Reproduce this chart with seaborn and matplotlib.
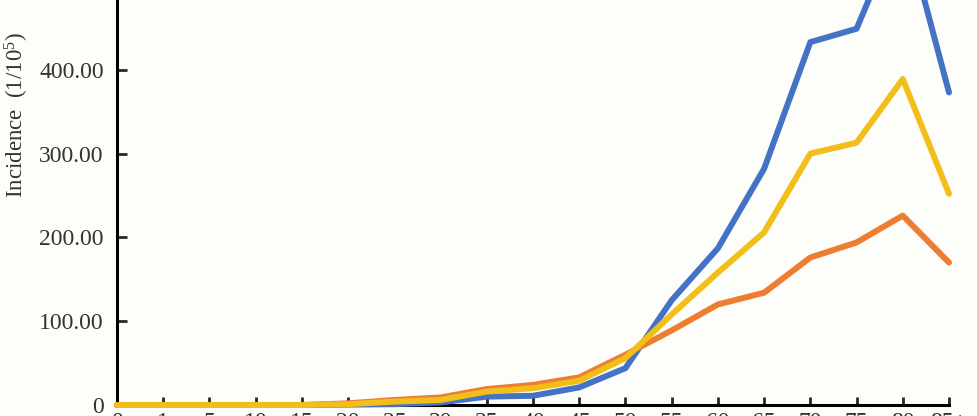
import numpy as np
import pandas as pd
import matplotlib
matplotlib.use("Agg")
import matplotlib.pyplot as plt
import seaborn as sns

# age groups and incidence (1/10^5)
age_groups = ["0", "1", "5", "10", "15", "20", "25", "30", "35", "40",
              "45", "50", "55", "60", "65", "70", "75", "80", "85+"]
blue_vals = [0, 0, 0, 0, 0, 0.5, 1, 3, 10, 11, 21, 44, 125, 187, 282, 433, 449, 580, 373]
orange_vals = [0, 0, 0, 0, 0, 2, 6, 9, 19, 24, 33, 60, 89, 120, 134, 176, 194, 226, 170]
yellow_vals = [0, 0, 0, 0, 0, 1, 4, 6, 16, 20, 29, 56, 108, 158, 206, 300, 313, 389, 252]
y_ticks = [0, 100, 200, 300, 400]

series = {"blue": blue_vals, "orange": orange_vals, "yellow": yellow_vals}
colors = {"blue": "#4472C4", "orange": "#ED7D31", "yellow": "#F2BE1A"}

pos = np.arange(len(age_groups))
df = pd.concat([pd.DataFrame({"pos": pos, "value": v, "series": k}) for k, v in series.items()],
               ignore_index=True)

sns.set_style("white")
plt.rcParams["font.family"] = ["Liberation Serif", "DejaVu Serif"]
plt.rcParams["mathtext.fontset"] = "custom"
plt.rcParams["mathtext.rm"] = "Liberation Serif"
plt.rcParams["mathtext.default"] = "regular"

bg = "#fdfdfa"
fig = plt.figure(figsize=(9.78, 4.16), dpi=100, facecolor=bg)
ax = fig.add_axes([117 / 978, 11 / 416, (949 - 117) / 978, 405 / 416])
ax.set_facecolor(bg)

sns.lineplot(data=df, x="pos", y="value", hue="series", palette=colors, sort=False,
             linewidth=4.3, legend=False, ax=ax, clip_on=False, zorder=5)

ax.set_xlim(0, len(age_groups) - 1)
ax.set_ylim(0, 483.3)
ax.set_xticks(pos)
ax.set_xticklabels(age_groups)
ax.set_yticks(y_ticks)
ax.set_yticklabels(["0" if t == 0 else f"{t:.2f}" for t in y_ticks])

sns.despine(ax=ax)
for s in ["left", "bottom"]:
    ax.spines[s].set_color("black")
    ax.spines[s].set_linewidth(2.2)

ax.tick_params(axis="y", direction="in", length=7, width=2, pad=9.5,
               labelsize=17, labelcolor="#333333", left=True)
ax.tick_params(axis="x", direction="in", length=6, width=2, pad=5,
               labelsize=17, labelcolor="#333333", bottom=True)

ax.set_xlabel("")
ax.set_ylabel("Incidence  (1/10$^5$)", fontsize=16.5, color="#333333")
ax.yaxis.set_label_coords(-0.103, 0.715)

fig.savefig("out.png", dpi=100, facecolor=bg)
